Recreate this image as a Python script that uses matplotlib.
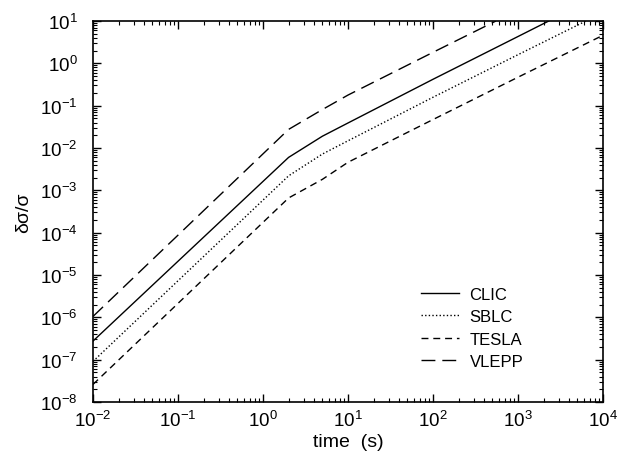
import numpy as np
import matplotlib
matplotlib.use("Agg")
import matplotlib.pyplot as plt

plt.rcParams['font.family'] = ['Liberation Sans', 'DejaVu Sans']
plt.rcParams['mathtext.fontset'] = 'custom'
plt.rcParams['mathtext.rm'] = 'Liberation Sans'
plt.rcParams['mathtext.it'] = 'Liberation Sans:italic'

# time (s) and delta sigma / sigma
t_clic = [0.01, 2, 5, 10, 100, 1000, 2300]
y_clic = [2.75e-7, 6.0e-3, 1.9e-2, 3.9e-2, 0.42, 4.3, 10]

t_sblc = [0.01, 2, 5, 10, 100, 1000, 6300]
y_sblc = [9.1e-8, 2.2e-3, 7.2e-3, 1.48e-2, 0.158, 1.6, 10]

t_tesla = [0.01, 2, 5, 10, 100, 1000, 10000]
y_tesla = [2.6e-8, 6.6e-4, 1.82e-3, 4.6e-3, 4.7e-2, 0.47, 4.6]

t_vlepp = [0.01, 2, 5, 10, 100, 550]
y_vlepp = [1.05e-6, 2.75e-2, 8.1e-2, 0.178, 1.82, 10]

labels = ["CLIC", "SBLC", "TESLA", "VLEPP"]

fig = plt.figure(figsize=(6.29, 4.56), dpi=100)
ax = fig.add_axes([93/629, 1-403/456, 510/629, 381/456])

ax.plot(t_clic, y_clic, color='black', lw=1.0, linestyle='-', label=labels[0])
ax.plot(t_sblc, y_sblc, color='black', lw=1.0, linestyle=(0, (1, 1.6)), label=labels[1])
ax.plot(t_tesla, y_tesla, color='black', lw=1.0, linestyle=(0, (5, 3.5)), label=labels[2])
ax.plot(t_vlepp, y_vlepp, color='black', lw=1.0, linestyle=(0, (10, 5)), label=labels[3])

ax.set_xscale('log')
ax.set_yscale('log')
ax.set_xlim(1e-2, 1e4)
ax.set_ylim(1e-8, 1e1)

ax.set_xticks([10.0**k for k in range(-2, 5)])
ax.set_yticks([10.0**k for k in range(-8, 2)])
ax.tick_params(which='both', direction='in', top=True, right=True, labelsize=13.5)
ax.tick_params(which='major', length=6, width=1)
ax.tick_params(which='minor', length=3, width=0.8)
ax.yaxis.set_minor_locator(matplotlib.ticker.LogLocator(base=10, subs=np.arange(2, 10), numticks=20))
ax.xaxis.set_minor_locator(matplotlib.ticker.LogLocator(base=10, subs=np.arange(2, 10), numticks=20))
ax.tick_params(axis='x', pad=6)
ax.tick_params(axis='y', pad=11)
for s in ax.spines.values():
    s.set_linewidth(1.2)

ax.set_xlabel("time  (s)", fontsize=14, labelpad=2)
ax.set_ylabel("δσ/σ", fontsize=14, labelpad=6)

leg = ax.legend(frameon=False, loc='upper left', bbox_to_anchor=(0.614, 0.342),
                fontsize=12, handlelength=2.3, handletextpad=0.6, labelspacing=0.45)

fig.savefig("out.png", dpi=100)
